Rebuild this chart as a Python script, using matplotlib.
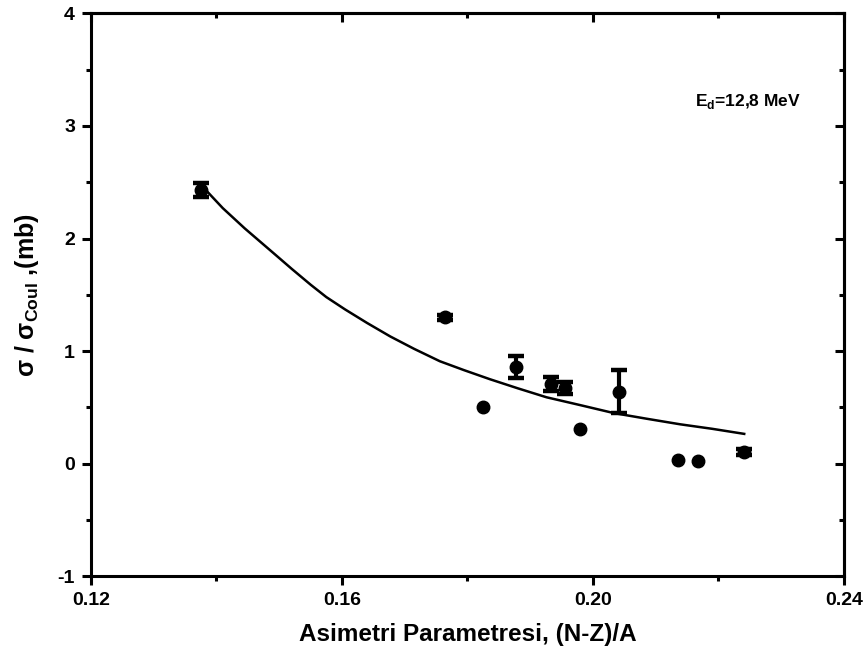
import matplotlib
matplotlib.use('Agg')
import matplotlib.pyplot as plt
import numpy as np

plt.rcParams['font.family'] = 'Liberation Sans'
plt.rcParams['font.weight'] = 'bold'
plt.rcParams['mathtext.fontset'] = 'custom'
plt.rcParams['mathtext.rm'] = 'Liberation Sans:bold'
plt.rcParams['mathtext.bf'] = 'Liberation Sans:bold'
plt.rcParams['axes.unicode_minus'] = False

# measured points
x = [0.1376, 0.1764, 0.1824, 0.1878, 0.1933, 0.1955, 0.1980, 0.2042, 0.2136, 0.2168, 0.2241]
y = [2.43, 1.30, 0.50, 0.86, 0.71, 0.67, 0.31, 0.64, 0.035, 0.025, 0.105]
yerr = [0.065, 0.02, 0.0, 0.095, 0.06, 0.055, 0.0, 0.19, 0.0, 0.0, 0.025]

# fit curve
fit_x = [0.1378, 0.1410, 0.1445, 0.1493, 0.1520, 0.1550, 0.1575, 0.1605, 0.1640,
         0.1677, 0.1715, 0.1756, 0.1795, 0.1836, 0.1880, 0.1926, 0.1980, 0.2033,
         0.2085, 0.2139, 0.2190, 0.2241]
fit_y = [2.46, 2.27, 2.09, 1.86, 1.73, 1.59, 1.48, 1.37, 1.25,
         1.13, 1.02, 0.91, 0.83, 0.75, 0.67, 0.59, 0.52, 0.45,
         0.40, 0.35, 0.31, 0.265]

x_ticks = [0.12, 0.16, 0.20, 0.24]
x_ticklabels = ['0.12', '0.16', '0.20', '0.24']
y_ticks = [-1, 0, 1, 2, 3, 4]
x_minor = [0.14, 0.18, 0.22]
y_minor = [-0.5, 0.5, 1.5, 2.5, 3.5]

fig = plt.figure(figsize=(8.65, 6.6), dpi=100)
ax = fig.add_axes([0.1052, 0.1268, 0.8705, 0.853])

ax.plot(fit_x, fit_y, color='black', linewidth=1.8, zorder=2)

xa = np.array(x)
ya = np.array(y)
ea = np.array(yerr)
m = ea > 0
ax.errorbar(xa[m], ya[m], yerr=ea[m], fmt='none', ecolor='black',
            elinewidth=3, capsize=6, capthick=3.2, zorder=3)
ax.plot(xa, ya, 'o', color='black', markersize=9, zorder=4)

ax.set_xlim(0.12, 0.24)
ax.set_ylim(-1, 4)
ax.set_xticks(x_ticks)
ax.set_xticklabels(x_ticklabels)
ax.set_yticks(y_ticks)
ax.set_xticks(x_minor, minor=True)
ax.set_yticks(y_minor, minor=True)

for s in ax.spines.values():
    s.set_linewidth(2.2)

ax.tick_params(which='major', direction='out', length=6.5, width=2.2,
               labelsize=14, pad=5)
ax.tick_params(which='minor', direction='out', length=3.5, width=2.2)

top = ax.secondary_xaxis('top')
top.set_xticks(x_ticks)
top.set_xticks(x_minor, minor=True)
top.tick_params(which='major', direction='in', length=6.5, width=2.2, labeltop=False)
top.tick_params(which='minor', direction='in', length=3.5, width=2.2)
top.spines['top'].set_linewidth(2.2)

right = ax.secondary_yaxis('right')
right.set_yticks(y_ticks)
right.set_yticks(y_minor, minor=True)
right.tick_params(which='major', direction='in', length=6.5, width=2.2, labelright=False)
right.tick_params(which='minor', direction='in', length=3.5, width=2.2)
right.spines['right'].set_linewidth(2.2)

ax.set_xlabel('Asimetri Parametresi, (N-Z)/A', fontsize=17.5, fontweight='bold', labelpad=10)
ax.set_ylabel(r'σ / σ$_{\mathrm{Coul}}$ ,(mb)', fontsize=18, fontweight='bold', labelpad=12)

ax.text(0.2163, 3.18, r'E$_{\mathrm{d}}$=12,8 MeV', fontsize=12.5, fontweight='bold',
        va='baseline')

fig.savefig('out.png', dpi=100)
